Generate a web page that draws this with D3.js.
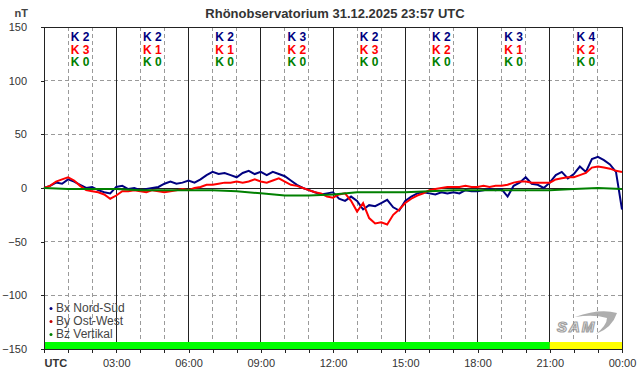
<!DOCTYPE html>
<html><head><meta charset="utf-8">
<script src="https://cdn.jsdelivr.net/npm/d3@7"></script>
<style>body{margin:0;background:#fff}svg{display:block}text{font-family:"Liberation Sans",Arial,sans-serif}</style>
</head><body><svg id="c" width="642" height="376"></svg>
<script>
// ---- data ----
const title = "Rhönobservatorium 31.12.2025 23:57 UTC";
const yTicks = [150, 100, 50, 0, -50, -100, -150];
const xTickHours = [0, 3, 6, 9, 12, 15, 18, 21, 24];
const xTickLabels = ["UTC", "03:00", "06:00", "09:00", "12:00", "15:00", "18:00", "21:00", "00:00"];
const kBx = [2, 2, 2, 3, 2, 2, 3, 4];
const kBy = [3, 1, 1, 2, 3, 2, 1, 2];
const kBz = [0, 0, 0, 0, 0, 0, 0, 0];
// 15-minute samples, 00:00 .. 24:00
const bxValues = [
  0, 2, 5, 4,   8, 6, 3, 0,   1, -2, -4, -5,   1, 2, -1, 0,
  -2, -1, 0, 1,   4, 6, 4, 5,   7, 5, 8, 12,   15, 13, 14, 12,
  10, 14, 16, 13,   15, 12, 15, 13,   11, 7, 3, 0,   -2, -4, -6, -5,
  -4, -10, -12, -8,   -12, -20, -16, -17,   -14, -11, -18, -21,   -12, -8, -5, -4,
  -5, -6, -4, -5,   -4, -5, -2, -3,   -3, -2, -1, -2,   -1, -8, 2, 5,
  10, 4, 3, 0,   5, 12, 15, 9,   13, 20, 15, 27,   29, 26, 22, 15,
  -20];
const byValues = [
  0, 2, 6, 8,   10, 7, 2, -2,   -3, -4, -6, -10,   -7, -3, -3, -2,
  -3, -4, -2, -3,   -4, -3, -2, -1,   -2, 0, 1, 3,   3, 4, 5, 5,
  6, 5, 6, 8,   6, 5, 7, 9,   6, 3, 2, 0,   -2, -4, -5, -8,
  -9, -6, -5, -12,   -22, -14, -28, -33,   -32, -34, -25, -20,   -14, -10, -7, -5,
  -2, -1, 0, 1,   1, 1, 2, 1,   1, 2, 1, 2,   2, 3, 5, 6,
  6, 5, 5, 5,   5, 8, 9, 10,   10, 12, 14, 19,   20, 19, 18, 16,
  15];
// hourly samples
const bzValues = [0, -1, -1, -1, -2, -2, -2, -2, -3, -5, -7, -7, -6, -4, -4, -4, -3, -2, -2, -2, -2, -2, -1, 0, -1];
const statusBands = [{from: 0, to: 21, color: "#00ff00"}, {from: 21, to: 24, color: "#ffff00"}];
const legendNames = ["Bx Nord-Süd", "By Ost-West", "Bz Vertikal"];
const colors = {bx: "#000080", by: "#ff0000", bz: "#008000"};

// ---- chart ----
const svg = d3.select("#c");
const x = d3.scaleLinear().domain([0, 24]).range([44, 622]);
const y = d3.scaleLinear().domain([-150, 150]).range([349, 27]);
const textCol = "#333";

// grid
const g = svg.append("g");
d3.range(1, 24).filter(h => h % 3 !== 0).forEach(h => {
  g.append("line").attr("x1", x(h)).attr("x2", x(h)).attr("y1", y(150)).attr("y2", y(-150))
    .attr("stroke", "#9a9a9a").attr("stroke-dasharray", "4,3").attr("shape-rendering", "crispEdges");
});
[100, 50, -50, -100].forEach(v => {
  g.append("line").attr("x1", x(0)).attr("x2", x(24)).attr("y1", y(v)).attr("y2", y(v))
    .attr("stroke", "#9a9a9a").attr("stroke-dasharray", "4,3").attr("shape-rendering", "crispEdges");
});
[3, 6, 9, 12, 15, 18, 21].forEach(h => {
  g.append("line").attr("x1", x(h)).attr("x2", x(h)).attr("y1", y(150)).attr("y2", y(-150))
    .attr("stroke", "#222").attr("shape-rendering", "crispEdges");
});
g.append("line").attr("x1", x(0)).attr("x2", x(24)).attr("y1", y(0)).attr("y2", y(0))
  .attr("stroke", "#222").attr("shape-rendering", "crispEdges");

// status band
statusBands.forEach(b => {
  svg.append("rect").attr("x", x(b.from)).attr("width", x(b.to) - x(b.from))
    .attr("y", y(-150) - 7).attr("height", 7).attr("fill", b.color);
});

// frame
svg.append("rect").attr("x", x(0)).attr("y", y(150)).attr("width", x(24) - x(0)).attr("height", y(-150) - y(150))
  .attr("fill", "none").attr("stroke", "#222").attr("shape-rendering", "crispEdges");

// y axis
const yAxis = d3.axisLeft(y).tickValues(yTicks).tickSize(3).tickPadding(14).tickFormat(d3.format("d"));
const ya = svg.append("g").attr("transform", `translate(${x(0)},0)`).call(yAxis);
ya.select(".domain").remove();
ya.selectAll("line").attr("stroke", "#222").attr("shape-rendering", "crispEdges");
ya.selectAll("text").attr("font-size", 11).attr("fill", textCol).attr("font-family", '"Liberation Sans",Arial,sans-serif');

// x axis
const xAxis = d3.axisBottom(x).tickValues(d3.range(0, 25)).tickSize(4).tickPadding(6)
  .tickFormat(h => { const i = xTickHours.indexOf(h); return i >= 0 ? xTickLabels[i] : ""; });
const xa = svg.append("g").attr("transform", `translate(0,${y(-150)})`).call(xAxis);
xa.select(".domain").remove();
xa.selectAll("line").attr("stroke", "#222").attr("shape-rendering", "crispEdges");
xa.selectAll("text").attr("font-size", 11).attr("fill", textCol).attr("font-family", '"Liberation Sans",Arial,sans-serif');
xa.selectAll("text").filter(h => h === 0).attr("text-anchor", "start").attr("font-weight", "bold");

// title & unit
svg.append("text").attr("x", 335).attr("y", 18).attr("text-anchor", "middle")
  .attr("font-size", 13).attr("font-weight", "bold").attr("fill", textCol).text(title);
svg.append("text").attr("x", 28).attr("y", 17).attr("text-anchor", "end")
  .attr("font-size", 11).attr("font-weight", "bold").attr("fill", "#444").text("nT");

// K indices
const kRows = [{vals: kBx, col: colors.bx}, {vals: kBy, col: colors.by}, {vals: kBz, col: colors.bz}];
kRows.forEach((row, r) => {
  row.vals.forEach((k, i) => {
    svg.append("text").attr("x", x(i * 3 + 1.5)).attr("y", 41 + r * 12.5).attr("text-anchor", "middle")
      .attr("font-size", 12).attr("font-weight", "bold").attr("fill", row.col).text("K " + k);
  });
});

// lines
const t15 = bxValues.map((_, i) => i / 4);
const tH = bzValues.map((_, i) => i);
const line = d3.line().x(d => x(d[0])).y(d => y(d[1]));
svg.append("path").datum(t15.map((t, i) => [t, bxValues[i]])).attr("d", line)
  .attr("fill", "none").attr("stroke", colors.bx).attr("stroke-width", 2);
svg.append("path").datum(t15.map((t, i) => [t, byValues[i]])).attr("d", line)
  .attr("fill", "none").attr("stroke", colors.by).attr("stroke-width", 2);
svg.append("path").datum(tH.map((t, i) => [t, bzValues[i]])).attr("d", line)
  .attr("fill", "none").attr("stroke", colors.bz).attr("stroke-width", 2);

// legend
const legCols = [colors.bx, "#c00000", colors.bz];
legendNames.forEach((n, i) => {
  const ly = 312 + i * 13;
  svg.append("circle").attr("cx", 51).attr("cy", ly - 3.5).attr("r", 1.5).attr("fill", legCols[i]);
  svg.append("text").attr("x", 56).attr("y", ly).attr("font-size", 12).attr("fill", "#444").text(n);
});

// SAM logo
const logo = svg.append("g").attr("opacity", 0.8);
logo.append("path").attr("d", "M575,317 Q600,308 617,313 Q612,328 596,334 Q607,325 607,318 Q594,314 575,317 Z").attr("fill", "#9a9a9a");
logo.append("text").attr("x", 557).attr("y", 332).attr("font-size", 15).attr("font-style", "italic").attr("font-weight", "bold")
  .attr("fill", "#fff").attr("stroke", "#8a8a8a").attr("stroke-width", 1.2).attr("letter-spacing", 2).text("SAM");
</script></body></html>
